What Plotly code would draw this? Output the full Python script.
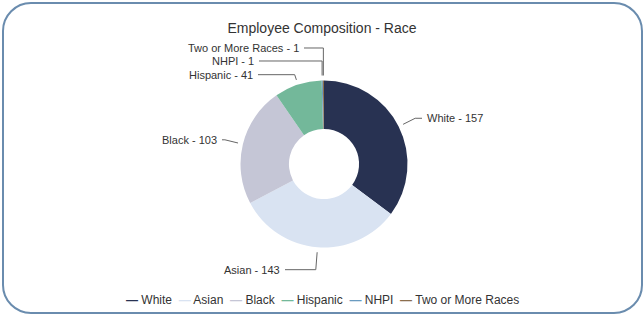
import numpy as np
import plotly.graph_objects as go

# ---- data ----
categories = ["White", "Asian", "Black", "Hispanic", "NHPI", "Two or More Races"]
values = [157, 143, 103, 41, 1, 1]
colors = ["#283252", "#d9e3f2", "#c5c6d6", "#73b89a", "#6a9bc0", "#8b6f4e"]
title_text = "Employee Composition - Race"

W, H = 644, 315
CX, CY, R = 324.0, 164.0, 83.5
HOLE = 0.42


def px(x):
    return x / W


def py(y):
    return 1 - y / H


fig = go.Figure()
fig.add_trace(go.Pie(
    labels=categories, values=values, hole=HOLE, sort=False,
    direction="clockwise", rotation=0,
    marker=dict(colors=colors, line=dict(width=0)),
    textinfo="none", hoverinfo="label+value",
    domain=dict(x=[px(CX - R), px(CX + R)], y=[py(CY + R), py(CY - R)]),
    showlegend=False,
))

# ---- outside labels with leader lines (anchor computed from data) ----
label_cfg = {
    "White": dict(r1=102, ty=None, tx=425, side="left"),
    "Asian": dict(r1=106, ty=None, tx=282, side="right"),
    "Black": dict(r1=102, ty=None, tx=219, side="right"),
    "Hispanic": dict(r1=94, ty=None, tx=255, side="right"),
    "NHPI": dict(r1=90, ty=61, tx=256, side="right"),
    "Two or More Races": dict(r1=90, ty=48, tx=301, side="right"),
}

total = float(sum(values))
cum = np.cumsum([0] + values)
annotations = []
shapes = []
for i, cat in enumerate(categories):
    mid = (cum[i] + cum[i + 1]) / 2 / total * 2 * np.pi
    s, c = np.sin(mid), np.cos(mid)
    cfg = label_cfg[cat]
    r0 = R + 5
    p0 = (CX + r0 * s, CY - r0 * c)
    p1 = (CX + cfg["r1"] * s, CY - cfg["r1"] * c)
    pts = [p0, p1]
    ty = p1[1] if cfg["ty"] is None else cfg["ty"]
    if cfg["ty"] is not None:
        pts.append((p1[0], ty))
    end_x = cfg["tx"] - 3 if cfg["side"] == "left" else cfg["tx"] + 3
    pts.append((end_x, ty))
    path = "M " + " L ".join(f"{px(x):.5f},{py(y):.5f}" for x, y in pts)
    shapes.append(dict(type="path", xref="paper", yref="paper", path=path,
                       line=dict(color="#666666", width=1)))
    annotations.append(dict(
        x=px(cfg["tx"]), y=py(ty), xref="paper", yref="paper",
        text=f"{cat} - {values[i]}", showarrow=False,
        xanchor="left" if cfg["side"] == "left" else "right", yanchor="middle",
        font=dict(size=11, color="#333333"),
    ))

# ---- legend drawn as text with coloured dashes ----
legend_parts = []
for cat, col in zip(categories, colors):
    legend_parts.append(f"<span style='color:{col}'><b>—</b></span> {cat}")
annotations.append(dict(
    x=0.5, y=py(300), xref="paper", yref="paper",
    text="  ".join(legend_parts), showarrow=False,
    xanchor="center", yanchor="middle",
    font=dict(size=12, color="#333333"),
))

# ---- rounded border ----
x0, y0, x1, y1, rr = 3, 3, 642, 313, 28
k = 0.5523 * rr


def P(x, y):
    return f"{px(x):.5f},{py(y):.5f}"


border = (
    f"M {P(x0 + rr, y0)} L {P(x1 - rr, y0)} "
    f"C {P(x1 - rr + k, y0)} {P(x1, y0 + rr - k)} {P(x1, y0 + rr)} "
    f"L {P(x1, y1 - rr)} "
    f"C {P(x1, y1 - rr + k)} {P(x1 - rr + k, y1)} {P(x1 - rr, y1)} "
    f"L {P(x0 + rr, y1)} "
    f"C {P(x0 + rr - k, y1)} {P(x0, y1 - rr + k)} {P(x0, y1 - rr)} "
    f"L {P(x0, y0 + rr)} "
    f"C {P(x0, y0 + rr - k)} {P(x0 + rr - k, y0)} {P(x0 + rr, y0)} Z"
)
shapes.append(dict(type="path", xref="paper", yref="paper", path=border,
                   line=dict(color="#6a8cae", width=2)))

fig.update_layout(
    width=W, height=H,
    margin=dict(l=0, r=0, t=0, b=0),
    paper_bgcolor="white", plot_bgcolor="white",
    font=dict(family="Liberation Sans, Arial, sans-serif", color="#333333"),
    title=dict(text=title_text, x=0.5, xanchor="center", y=py(28), yanchor="middle",
               font=dict(size=14, color="#333333")),
    annotations=annotations, shapes=shapes,
    showlegend=False,
)

fig.write_html(
    "out.html",
    config={"displayModeBar": False},
    post_script="document.body.style.margin='0';document.body.style.padding='0';"
                "document.body.style.overflow='hidden';",
)
